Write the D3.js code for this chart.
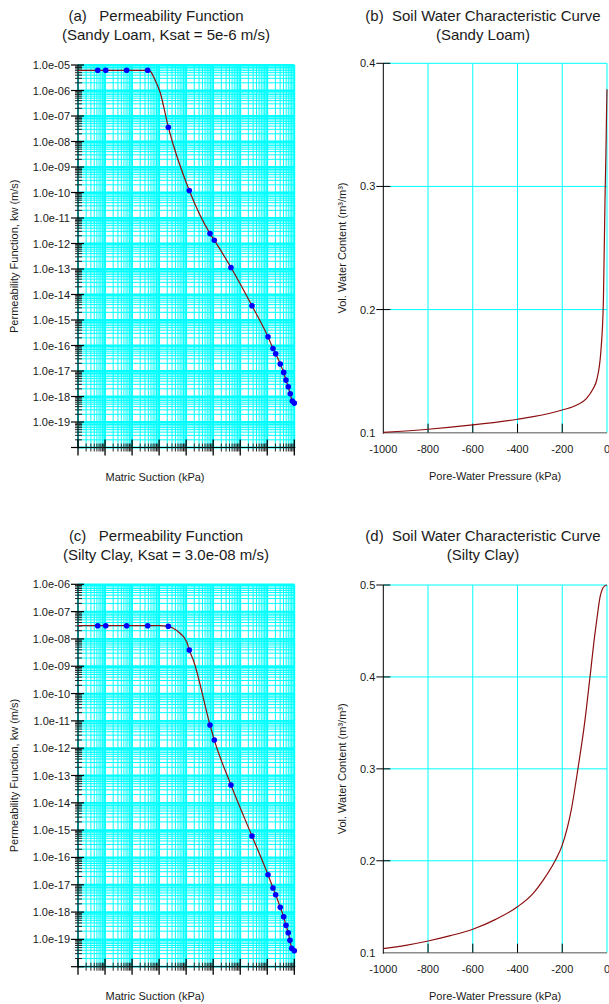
<!DOCTYPE html>
<html><head><meta charset="utf-8">
<script src="https://cdn.jsdelivr.net/npm/d3@7"></script>
<style>
body{margin:0;background:#fff}
svg{display:block}
text{font-family:"Liberation Sans",Arial,sans-serif;fill:#1a1a1a;white-space:pre}
</style>
</head><body>
<svg id="c" width="609" height="1004"></svg>
<script>
// ---------------- DATA ----------------
const suctionDomain = [0.01, 1e6];
const sandyKDomain = [1e-20, 1e-5];
const clayKDomain = [1e-20, 1e-6];

const sandyYTickLabels = ["1.0e-05","1.0e-06","1.0e-07","1.0e-08","1.0e-09","1.0e-10","1.0e-11","1.0e-12","1.0e-13","1.0e-14","1.0e-15","1.0e-16","1.0e-17","1.0e-18","1.0e-19"];
const clayYTickLabels = ["1.0e-06","1.0e-07","1.0e-08","1.0e-09","1.0e-10","1.0e-11","1.0e-12","1.0e-13","1.0e-14","1.0e-15","1.0e-16","1.0e-17","1.0e-18","1.0e-19"];

// (a) Sandy loam permeability: sample points (dots)
const sandyDotSuction = [0.0536, 0.106, 0.63, 3.78, 21.9, 130.6, 762, 1099, 4550, 27200, 106400, 163000, 205000, 303000, 405000, 492000, 599000, 710000, 841000, 1000000];
const sandyDotK = [6.2e-6, 6.2e-6, 6.2e-6, 6.2e-6, 3.62e-8, 1.19e-10, 2.45e-12, 1.35e-12, 1.14e-13, 3.6e-15, 2.2e-16, 7.6e-17, 4.7e-17, 1.87e-17, 8.8e-18, 4.4e-18, 2.4e-18, 1.28e-18, 6.6e-19, 5.5e-19];
// (a) fitted curve
const sandyCurveSuction = [0.01, 0.0536, 0.106, 0.63, 3.78, 4.8, 7.05, 10.8, 21.9, 130.6, 762, 1099, 4550, 27200, 106400, 163000, 205000, 303000, 405000, 492000, 599000, 710000, 841000, 1000000];
const sandyCurveK = [6.2e-6, 6.2e-6, 6.2e-6, 6.2e-6, 6.2e-6, 5.6e-6, 2.6e-6, 8.7e-7, 3.62e-8, 1.19e-10, 2.45e-12, 1.35e-12, 1.14e-13, 3.6e-15, 2.2e-16, 7.6e-17, 4.7e-17, 1.87e-17, 8.8e-18, 4.4e-18, 2.4e-18, 1.28e-18, 6.6e-19, 5.5e-19];

// (c) Silty clay permeability: sample points (dots)
const clayDotSuction = [0.0536, 0.106, 0.63, 3.78, 21.9, 130.6, 762, 1099, 4550, 27200, 106400, 163000, 205000, 303000, 405000, 492000, 599000, 690000, 800000, 1000000];
const clayDotK = [3.05e-8, 3.05e-8, 3.05e-8, 3.05e-8, 2.9e-8, 3.93e-9, 7.05e-12, 1.99e-12, 4.48e-14, 6.1e-16, 2.33e-17, 7.6e-18, 4.3e-18, 1.49e-18, 6.7e-19, 3.27e-19, 1.75e-19, 9.2e-20, 4.7e-20, 3.8e-20];
// (c) fitted curve
const clayCurveSuction = [0.01, 0.0536, 0.106, 0.63, 3.78, 10, 21.9, 33.4, 59.2, 104.7, 130.6, 183.6, 762, 1099, 4550, 27200, 106400, 163000, 205000, 303000, 405000, 492000, 599000, 690000, 800000, 1000000];
const clayCurveK = [3.05e-8, 3.05e-8, 3.05e-8, 3.05e-8, 3.05e-8, 3.05e-8, 2.9e-8, 2.45e-8, 1.61e-8, 7.9e-9, 3.93e-9, 1.69e-9, 7.05e-12, 1.99e-12, 4.48e-14, 6.1e-16, 2.33e-17, 7.6e-18, 4.3e-18, 1.49e-18, 6.7e-19, 3.27e-19, 1.75e-19, 9.2e-20, 4.7e-20, 3.8e-20];

// (b) Sandy loam SWCC
const pressureTicks = [-1000, -800, -600, -400, -200, 0];
const sandyThetaTicks = [0.1, 0.2, 0.3, 0.4];
const sandyPressure = [-1000, -800, -600, -400, -330, -200, -135, -91, -61, -46, -27, -16, -9, -4.5, -2, 0];
const sandyTheta = [0.1003, 0.1028, 0.1063, 0.1109, 0.113, 0.1184, 0.1225, 0.1279, 0.136, 0.1428, 0.167, 0.208, 0.289, 0.33, 0.36, 0.379];

// (d) Silty clay SWCC
const clayThetaTicks = [0.1, 0.2, 0.3, 0.4, 0.5];
const clayPressure = [-1000, -900, -800, -700, -600, -500, -400, -330, -285, -232, -200, -160, -130, -100, -76, -55, -42, -31, -20, -10, 0];
const clayTheta = [0.1044, 0.108, 0.1127, 0.1185, 0.1255, 0.136, 0.150, 0.1646, 0.179, 0.2, 0.217, 0.255, 0.3, 0.35, 0.4, 0.445, 0.469, 0.487, 0.496, 0.499, 0.5];

// ---------------- DRAWING ----------------
const svg = d3.select("#c");
const CYAN = "#00ffff";
const CURVE = "#8b0f0f";

function logGridValues(domain) {
  const lo = Math.round(Math.log10(domain[0])), hi = Math.round(Math.log10(domain[1]));
  const major = [], minor = [];
  for (let e = lo; e <= hi; e++) {
    major.push(+("1e" + e));
    if (e < hi) for (let m = 2; m <= 9; m++) minor.push(+(m + "e" + e));
  }
  return {major, minor};
}

function title(cx1, cx2, y, l1, l2) {
  svg.append("text").attr("x", cx1).attr("y", y).attr("text-anchor", "middle").attr("font-size", 15).text(l1);
  svg.append("text").attr("x", cx2).attr("y", y + 19).attr("text-anchor", "middle").attr("font-size", 15).text(l2);
}

function permPanel(cfg) {
  const x = d3.scaleLog().domain(suctionDomain).range([cfg.x0, cfg.x1]);
  const y = d3.scaleLog().domain(cfg.kDomain).range([cfg.y1, cfg.y0]);
  const g = svg.append("g");
  const xv = logGridValues(suctionDomain), yv = logGridValues(cfg.kDomain);
  // grid
  g.selectAll(null).data(xv.minor).enter().append("line")
    .attr("x1", d => x(d)).attr("x2", d => x(d)).attr("y1", cfg.y0).attr("y2", cfg.y1)
    .attr("stroke", CYAN).attr("stroke-width", 1);
  g.selectAll(null).data(yv.minor).enter().append("line")
    .attr("y1", d => y(d)).attr("y2", d => y(d)).attr("x1", cfg.x0).attr("x2", cfg.x1)
    .attr("stroke", CYAN).attr("stroke-width", 1);
  g.selectAll(null).data(xv.major).enter().append("line")
    .attr("x1", d => x(d)).attr("x2", d => x(d)).attr("y1", cfg.y0).attr("y2", cfg.y1)
    .attr("stroke", CYAN).attr("stroke-width", 1.8);
  g.selectAll(null).data(yv.major).enter().append("line")
    .attr("y1", d => y(d)).attr("y2", d => y(d)).attr("x1", cfg.x0).attr("x2", cfg.x1)
    .attr("stroke", CYAN).attr("stroke-width", 1.8);
  // axes lines
  g.append("line").attr("x1", cfg.x0).attr("x2", cfg.x0).attr("y1", cfg.y0).attr("y2", cfg.y1 + 1).attr("stroke", "#000");
  g.append("line").attr("x1", cfg.x0).attr("x2", cfg.x1 + 1).attr("y1", cfg.y1).attr("y2", cfg.y1).attr("stroke", "#000");
  // y ticks
  g.selectAll(null).data(yv.minor).enter().append("line")
    .attr("y1", d => y(d)).attr("y2", d => y(d)).attr("x1", cfg.x0 - 3).attr("x2", cfg.x0 + 4)
    .attr("stroke", "#222").attr("stroke-width", 1);
  g.selectAll(null).data(yv.major).enter().append("line")
    .attr("y1", d => y(d)).attr("y2", d => y(d)).attr("x1", cfg.x0 - 7).attr("x2", cfg.x0 + 6)
    .attr("stroke", "#000").attr("stroke-width", 1.2);
  // x ticks
  g.selectAll(null).data(xv.minor).enter().append("line")
    .attr("x1", d => x(d)).attr("x2", d => x(d)).attr("y1", cfg.y1 - 4).attr("y2", cfg.y1 + 4)
    .attr("stroke", "#222").attr("stroke-width", 1);
  g.selectAll(null).data(xv.major).enter().append("line")
    .attr("x1", d => x(d)).attr("x2", d => x(d)).attr("y1", cfg.y1 - 8).attr("y2", cfg.y1 + 8)
    .attr("stroke", "#000").attr("stroke-width", 1.3);
  // y tick labels (decades from top)
  const decTop = Math.round(Math.log10(cfg.kDomain[1]));
  g.selectAll(null).data(cfg.yLabels).enter().append("text")
    .attr("x", cfg.x0 - 8).attr("y", (d, i) => y(+("1e" + (decTop - i))) + 4)
    .attr("text-anchor", "end").attr("font-size", 11).text(d => d);
  // curve
  const line = d3.line().x(d => x(d[0])).y(d => y(d[1])).curve(d3.curveMonotoneX);
  g.append("path").datum(d3.zip(cfg.cx, cfg.cy)).attr("d", line)
    .attr("fill", "none").attr("stroke", CURVE).attr("stroke-width", 1.2);
  g.selectAll(null).data(d3.zip(cfg.dx, cfg.dy)).enter().append("circle")
    .attr("cx", d => x(d[0])).attr("cy", d => y(d[1])).attr("r", 2.8).attr("fill", "#0000ff");
  // axis titles
  g.append("text").attr("x", 155).attr("y", cfg.y1 + 33).attr("text-anchor", "middle")
    .attr("font-size", 11).text("Matric Suction (kPa)");
  g.append("text").attr("transform", `translate(18,${(cfg.y0 + cfg.y1) / 2}) rotate(-90)`)
    .attr("text-anchor", "middle").attr("font-size", 11).text("Permeability Function, kw (m/s)");
}

function swccPanel(cfg) {
  const x = d3.scaleLinear().domain([-1000, 0]).range([cfg.x0, cfg.x1]);
  const y = d3.scaleLinear().domain([cfg.yTicks[0], cfg.yTicks[cfg.yTicks.length - 1]]).range([cfg.y1, cfg.y0]);
  const g = svg.append("g");
  g.selectAll(null).data(pressureTicks.slice(1)).enter().append("line")
    .attr("x1", d => x(d)).attr("x2", d => x(d)).attr("y1", cfg.y0).attr("y2", cfg.y1)
    .attr("stroke", CYAN).attr("stroke-width", 1);
  g.selectAll(null).data(cfg.yTicks.slice(1)).enter().append("line")
    .attr("y1", d => y(d)).attr("y2", d => y(d)).attr("x1", cfg.x0).attr("x2", cfg.x1)
    .attr("stroke", CYAN).attr("stroke-width", 1);
  // bottom axis
  g.append("line").attr("x1", cfg.x0).attr("x2", cfg.x1).attr("y1", cfg.y1).attr("y2", cfg.y1)
    .attr("stroke", "#8c8c8c").attr("stroke-width", 1.6);
  g.selectAll(null).data(pressureTicks.slice(1, -1)).enter().append("line")
    .attr("x1", d => x(d)).attr("x2", d => x(d)).attr("y1", cfg.y1 - 9).attr("y2", cfg.y1)
    .attr("stroke", "#000");
  // left axis
  g.append("line").attr("x1", cfg.x0).attr("x2", cfg.x0).attr("y1", cfg.y0).attr("y2", cfg.y1 + 1)
    .attr("stroke", "#000");
  g.selectAll(null).data(cfg.yTicks.slice(1)).enter().append("line")
    .attr("y1", d => y(d)).attr("y2", d => y(d)).attr("x1", cfg.x0 - 7).attr("x2", cfg.x0 + 7)
    .attr("stroke", "#000");
  // labels
  g.selectAll(null).data(pressureTicks).enter().append("text")
    .attr("x", d => x(d)).attr("y", cfg.y1 + 20).attr("text-anchor", "middle").attr("font-size", 11)
    .text(d => String(d));
  g.selectAll(null).data(cfg.yTicks).enter().append("text")
    .attr("x", cfg.x0 - 8).attr("y", d => y(d) + 4).attr("text-anchor", "end").attr("font-size", 11)
    .text(d => d.toFixed(1));
  // curve
  const line = d3.line().x(d => x(d[0])).y(d => y(d[1])).curve(d3.curveMonotoneX);
  g.append("path").datum(d3.zip(cfg.px, cfg.th)).attr("d", line)
    .attr("fill", "none").attr("stroke", CURVE).attr("stroke-width", 1.2);
  g.append("text").attr("x", (cfg.x0 + cfg.x1) / 2).attr("y", cfg.y1 + 47).attr("text-anchor", "middle")
    .attr("font-size", 11).text("Pore-Water Pressure (kPa)");
  g.append("text").attr("transform", `translate(346,${(cfg.y0 + cfg.y1) / 2}) rotate(-90)`)
    .attr("text-anchor", "middle").attr("font-size", 11).text("Vol. Water Content (m³/m³)");
}

title(156, 166, 21, "(a)   Permeability Function", "(Sandy Loam, Ksat = 5e-6 m/s)");
title(483, 483, 21, "(b)  Soil Water Characteristic Curve", "(Sandy Loam)");
title(156, 166, 541, "(c)   Permeability Function", "(Silty Clay, Ksat = 3.0e-08 m/s)");
title(483, 483, 541, "(d)  Soil Water Characteristic Curve", "(Silty Clay)");

permPanel({x0: 78, x1: 294.3, y0: 65, y1: 447.5, kDomain: sandyKDomain, yLabels: sandyYTickLabels,
  cx: sandyCurveSuction, cy: sandyCurveK, dx: sandyDotSuction, dy: sandyDotK});
permPanel({x0: 78, x1: 294.3, y0: 584.3, y1: 966.7, kDomain: clayKDomain, yLabels: clayYTickLabels,
  cx: clayCurveSuction, cy: clayCurveK, dx: clayDotSuction, dy: clayDotK});
swccPanel({x0: 383.3, x1: 607, y0: 63.3, y1: 432.7, yTicks: sandyThetaTicks, px: sandyPressure, th: sandyTheta});
swccPanel({x0: 383.3, x1: 607, y0: 585, y1: 952.7, yTicks: clayThetaTicks, px: clayPressure, th: clayTheta});
</script>
</body></html>
